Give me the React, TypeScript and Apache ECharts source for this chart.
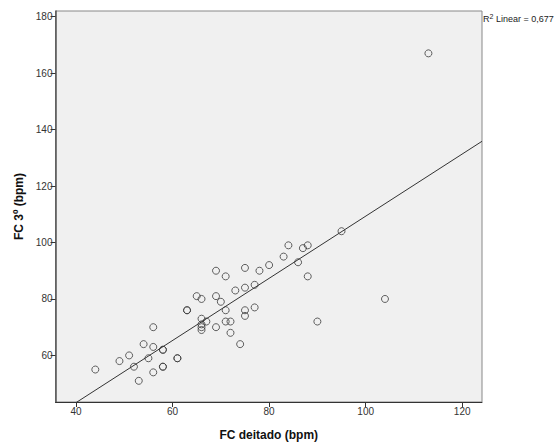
import React, { useEffect, useRef } from "react";
import * as echarts from "echarts";

const fcDeitado: number[] = [
  44, 49, 51, 52, 53, 54, 55, 56, 56, 56, 58, 58, 58, 58, 61, 61, 63, 63, 65, 66,
  66, 66, 66, 66, 67, 69, 69, 69, 70, 71, 71, 71, 72, 72, 73, 74, 75, 75, 75, 75,
  77, 77, 78, 80, 83, 84, 86, 87, 88, 88, 90, 95, 104, 113,
];
const fc3: number[] = [
  55, 58, 60, 56, 51, 64, 59, 70, 63, 54, 62, 62, 56, 56, 59, 59, 76, 76, 81, 80,
  73, 71, 70, 69, 72, 81, 70, 90, 79, 88, 76, 72, 72, 68, 83, 64, 91, 84, 76, 74,
  85, 77, 90, 92, 95, 99, 93, 98, 99, 88, 72, 104, 80, 167,
];
const xTicks: number[] = [40, 60, 80, 100, 120];
const yTicks: number[] = [60, 80, 100, 120, 140, 160, 180];
const xRange: number[] = [35.75, 124.1];
const yRange: number[] = [43.5, 182];
const r2Label = "0,677";

function fit(xs: number[], ys: number[]) {
  const n = xs.length;
  const mx = xs.reduce((a, b) => a + b, 0) / n;
  const my = ys.reduce((a, b) => a + b, 0) / n;
  let sxy = 0;
  let sxx = 0;
  for (let i = 0; i < n; i++) {
    sxy += (xs[i] - mx) * (ys[i] - my);
    sxx += (xs[i] - mx) * (xs[i] - mx);
  }
  const b = sxy / sxx;
  return { a: my - b * mx, b };
}

export default function App() {
  const ref = useRef<HTMLDivElement>(null);
  useEffect(() => {
    if (!ref.current) return;
    const chart = echarts.init(ref.current, undefined, { renderer: "svg" });
    const { a, b } = fit(fcDeitado, fc3);
    const points = fcDeitado.map((x, i) => [x, fc3[i]]);
    const lineData = xRange.map((x) => [x, a + b * x]);
    const font = "'Liberation Sans', Arial, sans-serif";
    chart.setOption({
      animation: false,
      backgroundColor: "#ffffff",
      textStyle: { fontFamily: font },
      grid: {
        left: 55.5,
        right: 75,
        top: 11,
        bottom: 42.7,
        show: true,
        backgroundColor: "#F0F0F0",
        borderColor: "#888888",
        borderWidth: 1,
      },
      xAxis: {
        type: "value",
        min: xRange[0],
        max: xRange[1],
        name: "FC deitado (bpm)",
        nameLocation: "middle",
        nameGap: 27,
        nameTextStyle: { fontSize: 12, fontWeight: "bold", color: "#111", fontFamily: font },
        splitLine: { show: false },
        axisLine: { show: true, lineStyle: { color: "#333", width: 1 } },
        axisTick: { show: true, length: 5, customValues: xTicks, lineStyle: { color: "#333" } },
        axisLabel: { customValues: xTicks, fontSize: 10, color: "#333", margin: 4, fontFamily: font },
      },
      yAxis: {
        type: "value",
        min: yRange[0],
        max: yRange[1],
        name: "FC 3º (bpm)",
        nameLocation: "middle",
        nameGap: 30,
        nameTextStyle: { fontSize: 12, fontWeight: "bold", color: "#111", fontFamily: font },
        splitLine: { show: false },
        axisLine: { show: true, lineStyle: { color: "#555", width: 1.5 } },
        axisTick: { show: true, length: 5, customValues: yTicks, lineStyle: { color: "#333" } },
        axisLabel: { customValues: yTicks, fontSize: 10, color: "#333", margin: 3, fontFamily: font },
      },
      graphic: [
        {
          type: "text",
          left: 483,
          top: 13,
          style: {
            text: "R{sup|2} Linear = " + r2Label,
            fontSize: 9,
            fill: "#222",
            fontFamily: font,
            rich: {
              sup: { fontSize: 7, verticalAlign: "top", padding: [0, 0, 5, 0], fill: "#222" },
            },
          },
        },
      ],
      series: [
        {
          type: "line",
          data: lineData,
          showSymbol: false,
          symbol: "none",
          clip: true,
          lineStyle: { color: "#333", width: 1 },
          z: 2,
        },
        {
          type: "scatter",
          data: points,
          symbol: "circle",
          symbolSize: 7,
          itemStyle: { color: "rgba(0,0,0,0)", borderColor: "#3a3a3a", borderWidth: 1 },
          z: 3,
        },
      ],
    });
    return () => chart.dispose();
  }, []);
  return (
    <div
      ref={ref}
      style={{ position: "fixed", left: 0, top: 0, width: 557, height: 446 }}
    />
  );
}
